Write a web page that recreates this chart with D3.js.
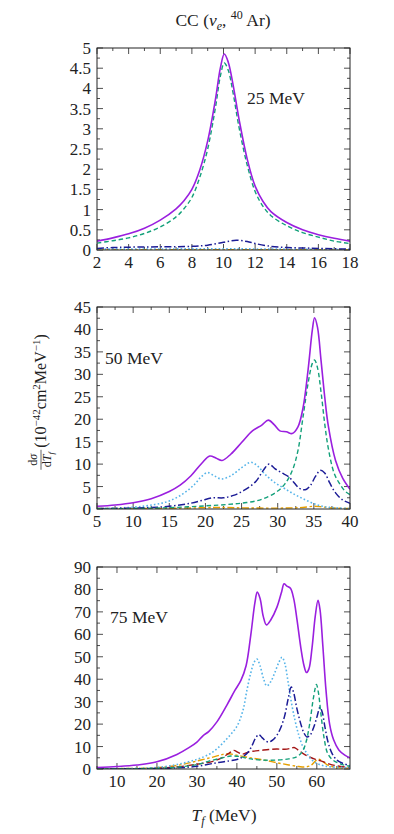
<!DOCTYPE html>
<html><head><meta charset="utf-8">
<script src="https://cdn.jsdelivr.net/npm/d3@7"></script>
<style>
body{margin:0;background:#fff}
svg{display:block}
text{font-family:"Liberation Serif","Times New Roman",serif;fill:#222}
</style>
</head><body>
<svg id="c" width="394" height="834"></svg>
<script>
// ---------- DATA ----------
const panelLabels = ["25 MeV", "50 MeV", "75 MeV"];
const xDomains = [[2, 18], [5, 40], [5, 68.3]];
const yDomains = [[0, 5], [0, 45], [0, 90]];
const xTicks = [[2,4,6,8,10,12,14,16,18],[5,10,15,20,25,30,35,40],[10,20,30,40,50,60]];
const yTicks = [[0,0.5,1,1.5,2,2.5,3,3.5,4,4.5,5],[0,5,10,15,20,25,30,35,40,45],[0,10,20,30,40,50,60,70,80,90]];
const xMinorStep = [1, 2.5, 5];
const yMinorStep = [0.25, 2.5, 5];

// 25 MeV
const p1Total = [[2,0.22],[3,0.3],[4,0.4],[5,0.54],[6,0.74],[7,1.02],[7.5,1.22],[8,1.5],[8.5,1.98],[9,2.7],[9.5,3.75],[9.8,4.5],[10.05,4.85],[10.3,4.65],[10.6,4.1],[11,3.2],[11.5,2.25],[12,1.58],[12.5,1.2],[13,0.95],[14,0.68],[15,0.5],[16,0.38],[17,0.29],[18,0.22]];
const p1Green = [[2,0.17],[3,0.23],[4,0.3],[5,0.41],[6,0.57],[7,0.82],[7.5,1.02],[8,1.3],[8.5,1.8],[9,2.5],[9.5,3.55],[9.8,4.3],[10.05,4.63],[10.3,4.45],[10.6,3.9],[11,3.0],[11.5,2.1],[12,1.45],[12.5,1.08],[13,0.85],[14,0.6],[15,0.43],[16,0.32],[17,0.22],[18,0.16]];
const p1Blue = [[2,0.04],[3,0.06],[4,0.07],[6,0.08],[8,0.09],[9,0.12],[10,0.19],[10.8,0.24],[11.5,0.21],[12,0.16],[13,0.09],[14,0.06],[15,0.05],[16,0.04],[18,0.02]];
const p1Light = [[2,0.02],[6,0.025],[10,0.03],[14,0.02],[18,0.01]];
const p1Orange = [[2,0.01],[10,0.01],[18,0.01]];

// 50 MeV
const p2Total = [[5,0.6],[7.5,0.9],[10,1.4],[12.5,2.3],[15,3.9],[16.5,5.3],[18,7.4],[19.5,10.2],[20.6,11.8],[21.5,11.3],[22.3,10.8],[23.5,12.2],[25,14.8],[26.5,17.4],[27.8,18.7],[28.7,19.8],[29.5,18.8],[30.3,17.4],[31.2,17.2],[32,16.8],[32.8,18.3],[33.5,22.5],[34.2,31],[34.8,40],[35.1,42.6],[35.5,40.5],[36,33],[36.5,25],[37,18.5],[38,10.8],[39,6.8],[40,4.4]];
const p2Light = [[5,0.1],[10,0.4],[13,1],[15,1.8],[17,3.5],[18.5,5.5],[19.5,7.3],[20.3,8.1],[21.2,7.4],[22.2,6.7],[23.5,7.4],[25,9.2],[26.3,10.4],[27.2,9.6],[28.2,7.8],[29.5,6],[31,4.5],[32.5,3.1],[34,1.9],[35.5,0.9],[37,0.4],[40,0.1]];
const p2Blue = [[5,0.1],[10,0.2],[15,0.6],[18,1.3],[19.5,1.9],[21,2.5],[22.5,2.5],[24,3.1],[25.5,4.3],[27,6.2],[28,8.6],[28.8,10],[29.6,9],[30.5,8.1],[31.5,7.2],[32.3,5.8],[33,4.6],[33.8,4.3],[34.5,5.2],[35.2,7.2],[35.9,8.6],[36.5,8],[37.2,5.8],[38,3.6],[39,2],[40,1.3]];
const p2Green = [[5,0.05],[10,0.1],[15,0.3],[20,0.7],[23,1],[25,1.3],[27,1.8],[28.5,2.6],[30,4],[31,5.6],[32,8.5],[32.8,13],[33.5,20.5],[34.2,28],[34.8,32.5],[35.1,33.2],[35.5,31.5],[36,26],[36.5,19],[37,13.5],[37.8,8],[38.5,5.8],[39.3,4],[40,3.2]];
const p2Orange = [[5,0.1],[15,0.15],[20,0.3],[22,0.35],[25,0.25],[30,0.2],[33,0.3],[35,0.6],[36,0.5],[37,0.3],[40,0.1]];

// 75 MeV
const p3Total = [[5,0.7],[10,1.1],[15,1.8],[20,3.2],[25,6.5],[28,9.5],[30,12],[31.5,14.8],[33,16.8],[35,21],[37.5,28.5],[39.5,35],[41,39.5],[42.3,46],[43.5,60],[44.5,74],[45.1,78.8],[45.8,76],[46.6,68],[47.4,64.2],[48.5,66.5],[50,72],[51.2,79],[51.8,82.5],[52.5,81.5],[53.4,80.5],[54.2,76],[55,67],[56,54],[56.8,46],[57.4,43],[58,44.5],[58.8,54],[59.6,68],[60.3,75.2],[60.8,71],[61.5,55],[62.3,35],[63.2,20],[64.2,13],[65.5,8.5],[67,6.2],[68.3,5]];
const p3Light = [[5,0],[15,0.3],[20,0.7],[25,2],[30,4.3],[33,6.5],[35,9],[37.5,13.5],[40,19],[41.5,26],[42.5,35],[43.5,43],[44.3,47.5],[45,49],[45.8,46],[46.7,40],[47.5,37],[48.5,39],[49.5,43],[50.5,47.5],[51.3,49.8],[52,47],[52.7,40],[53.5,31],[54.5,22],[55.5,15],[56.5,10],[57.5,7],[58.5,4.5],[60,2.5],[62,1.3],[65,0.8],[68.3,0.6]];
const p3Blue = [[5,0],[20,0.2],[25,0.5],[30,1.2],[35,2.8],[38,3.6],[40,4.2],[41.5,5.5],[42.8,7.5],[43.8,10.5],[44.6,13.5],[45.5,15.3],[46.3,14],[47.2,12.5],[48,12],[49,13],[50,15],[51,18.5],[52,24],[52.8,31],[53.6,36.5],[54.2,34],[55,27],[56,20],[56.8,16],[57.5,14.3],[58.3,15],[59.2,18.5],[60,23],[60.8,27.5],[61.4,25],[62,19],[62.8,12],[63.8,7],[65,4],[66.5,2.5],[68.3,1.5]];
const p3Green = [[5,0],[20,0.3],[25,0.8],[30,2],[33,3.5],[36,4.8],[38.5,5.8],[40.5,5.6],[43,4.6],[46,4],[50,4],[53,4.5],[55,5.5],[56.3,7.5],[57.3,12],[58.2,20],[59,30],[59.6,36],[59.9,37.7],[60.4,34],[61,25],[61.8,14],[62.7,7],[64,4],[66,2.2],[68.3,1.2]];
const p3Red = [[5,0],[15,0.1],[20,0.3],[25,0.9],[28,1.6],[31,2.4],[34,3.4],[36.5,5.2],[38,7],[39.2,8.3],[40.3,7.4],[41.3,6.6],[42.5,7.3],[44,7.9],[46,8.3],[48,8.7],[50,8.9],[52,8.8],[53.5,9.2],[54.3,9.6],[55.2,8.6],[56.5,7],[58,5.5],[59.5,4.4],[61,3.6],[63,2.3],[65,1.4],[68.3,0.6]];
const p3Orange = [[5,0.1],[15,0.3],[20,0.6],[25,1.6],[28,2.7],[31,4],[34,5.3],[36.5,6.5],[38,6.8],[39.5,6.3],[41.5,5.6],[44,4.8],[47,3.9],[50,2.8],[53,1.8],[55.5,1.1],[57,0.9],[58.5,1.6],[59.5,3.3],[60.4,4.4],[61.3,3.6],[62.5,2],[64,1],[66,0.5],[68.3,0.3]];

// ---------- STYLES ----------
const style = {
  orange: {color:"#e69f00", dash:"7,2.5,2.5,2.5", width:1.4},
  red:    {color:"#a31515", dash:"7,3", width:1.4},
  light:  {color:"#56b4e9", dash:"1.6,2.2", width:1.6},
  green:  {color:"#13a07a", dash:"4.5,2.8", width:1.4},
  blue:   {color:"#1c1c96", dash:"7,2.5,1.5,2.5", width:1.5},
  total:  {color:"#9a1fdf", dash:null, width:1.6}
};
const panelSeries = [
  [["orange",p1Orange],["light",p1Light],["blue",p1Blue],["green",p1Green],["total",p1Total]],
  [["orange",p2Orange],["light",p2Light],["blue",p2Blue],["green",p2Green],["total",p2Total]],
  [["orange",p3Orange],["red",p3Red],["light",p3Light],["blue",p3Blue],["green",p3Green],["total",p3Total]]
];

// ---------- LAYOUT ----------
const svg = d3.select("#c");
const left = 97, right = 350;
const tops = [48, 307, 567], h = 202;
const labelPos = [[247, 104], [105, 364], [110, 623]];

function fmt(v){ return String(v); }

for (let p = 0; p < 3; p++) {
  const top = tops[p], bottom = top + h;
  const x = d3.scaleLinear().domain(xDomains[p]).range([left, right]);
  const y = d3.scaleLinear().domain(yDomains[p]).range([bottom, top]);
  const g = svg.append("g");

  const clipId = "clip" + p;
  svg.append("clipPath").attr("id", clipId).append("rect")
    .attr("x", left).attr("y", top).attr("width", right - left).attr("height", h);

  // minor ticks
  const xMinor = d3.range(xDomains[p][0], xDomains[p][1] + 1e-6, xMinorStep[p]).filter(v => !xTicks[p].includes(v));
  const yMinor = d3.range(yDomains[p][0], yDomains[p][1] + 1e-6, yMinorStep[p]).filter(v => !yTicks[p].some(t => Math.abs(t - v) < 1e-9));

  const tk = g.append("g").attr("stroke", "#222").attr("stroke-width", 0.8);
  xTicks[p].forEach(v => {
    const px = x(v);
    tk.append("line").attr("x1", px).attr("x2", px).attr("y1", bottom).attr("y2", bottom - 6);
    tk.append("line").attr("x1", px).attr("x2", px).attr("y1", top).attr("y2", top + 6);
  });
  xMinor.forEach(v => {
    const px = x(v);
    tk.append("line").attr("x1", px).attr("x2", px).attr("y1", bottom).attr("y2", bottom - 3);
    tk.append("line").attr("x1", px).attr("x2", px).attr("y1", top).attr("y2", top + 3);
  });
  yTicks[p].forEach(v => {
    const py = y(v);
    tk.append("line").attr("x1", left).attr("x2", left + 6).attr("y1", py).attr("y2", py);
    tk.append("line").attr("x1", right).attr("x2", right - 6).attr("y1", py).attr("y2", py);
  });
  yMinor.forEach(v => {
    const py = y(v);
    tk.append("line").attr("x1", left).attr("x2", left + 3).attr("y1", py).attr("y2", py);
    tk.append("line").attr("x1", right).attr("x2", right - 3).attr("y1", py).attr("y2", py);
  });

  // curves
  const line = d3.line().x(d => x(d[0])).y(d => y(d[1])).curve(d3.curveCatmullRom.alpha(0.5));
  const cg = g.append("g").attr("clip-path", `url(#${clipId})`);
  panelSeries[p].forEach(([key, data]) => {
    const s = style[key];
    cg.append("path").attr("d", line(data)).attr("fill", "none")
      .attr("stroke", s.color).attr("stroke-width", s.width)
      .attr("stroke-dasharray", s.dash).attr("stroke-linecap", "butt");
  });

  // frame
  g.append("rect").attr("x", left).attr("y", top).attr("width", right - left).attr("height", h)
    .attr("fill", "none").attr("stroke", "#222").attr("stroke-width", 1);

  // tick labels
  xTicks[p].forEach(v => {
    g.append("text").attr("x", x(v)).attr("y", bottom + 18).attr("text-anchor", "middle")
      .attr("font-size", 17).text(fmt(v));
  });
  yTicks[p].forEach(v => {
    g.append("text").attr("x", left - 6).attr("y", y(v) + 6).attr("text-anchor", "end")
      .attr("font-size", 17).text(fmt(v));
  });

  // panel label
  g.append("text").attr("x", labelPos[p][0]).attr("y", labelPos[p][1]).attr("font-size", 17.5).text(panelLabels[p]);
}

// title
const title = svg.append("text").attr("x", 223).attr("y", 26).attr("text-anchor", "middle").attr("font-size", 17.5);
title.append("tspan").text("CC (");
title.append("tspan").attr("font-style", "italic").text("ν");
title.append("tspan").attr("font-size", 12).attr("font-style", "italic").attr("dy", 4).text("e");
title.append("tspan").attr("dy", -4).text(", ");
title.append("tspan").attr("font-size", 12).attr("dy", -7).text("40");
title.append("tspan").attr("dy", 7).text(" Ar)");

// x label
const xl = svg.append("text").attr("x", 224).attr("y", 821).attr("text-anchor", "middle").attr("font-size", 17.5);
xl.append("tspan").attr("font-style", "italic").text("T");
xl.append("tspan").attr("font-size", 12).attr("font-style", "italic").attr("dy", 4).text("f");
xl.append("tspan").attr("dy", -4).text(" (MeV)");

// y label (rotated)
const yg = svg.append("g").attr("transform", "translate(40,402) rotate(-90)");
const main = yg.append("text").attr("font-size", 16).attr("y", 6);
main.append("tspan").text("(10");
main.append("tspan").attr("font-size", 11).attr("dy", -6).text("−42");
main.append("tspan").attr("dy", 6).text("cm");
main.append("tspan").attr("font-size", 11).attr("dy", -6).text("2");
main.append("tspan").attr("dy", 6).text("MeV");
main.append("tspan").attr("font-size", 11).attr("dy", -6).text("−1");
main.append("tspan").attr("dy", 6).text(")");
const mainW = main.node().getComputedTextLength();
const fracW = 20;
const start = -(fracW + 2 + mainW) / 2;
main.attr("x", start + fracW + 2);
const num = yg.append("text").attr("font-size", 12).attr("x", start + fracW / 2).attr("y", -3).attr("text-anchor", "middle");
num.append("tspan").text("d");
num.append("tspan").attr("font-style", "italic").text("σ");
yg.append("line").attr("x1", start).attr("x2", start + fracW).attr("y1", 1).attr("y2", 1).attr("stroke", "#222").attr("stroke-width", 0.7);
const den = yg.append("text").attr("font-size", 12).attr("x", start + fracW / 2).attr("y", 11).attr("text-anchor", "middle");
den.append("tspan").text("d");
den.append("tspan").attr("font-style", "italic").text("T");
den.append("tspan").attr("font-style", "italic").attr("font-size", 8.5).attr("dy", 2.5).text("f");
</script>
</body></html>
